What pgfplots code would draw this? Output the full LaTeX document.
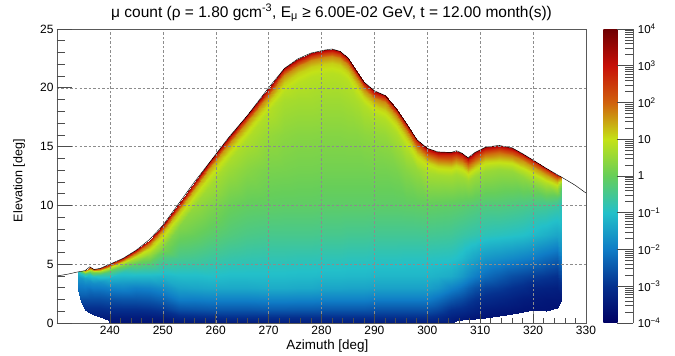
\documentclass[border=0pt]{standalone}
\usepackage{fontspec}
\setmainfont{Liberation Sans}
\usepackage{pgfplots}
\pgfplotsset{compat=1.18}
\begin{document}
\begin{tikzpicture}
\useasboundingbox (0,0) rectangle (675pt,356pt);
\begin{axis}[
  at={(57pt,33pt)}, anchor=south west,
  scale only axis, width=529pt, height=294pt,
  xmin=230, xmax=330, ymin=0, ymax=25,
  xtick={240,250,...,330}, ytick={0,5,...,25},
  minor x tick num=4, minor y tick num=4,
  tick align=inside, tick pos=left,
  major tick length=9pt, minor tick length=4.5pt,
  every tick/.style={black!70, line width=0.6pt},
  axis line style={black!65, line width=0.7pt},
  grid=major,
  major grid style={black!45, dash pattern=on 2.5pt off 2pt, line width=0.4pt},
  axis on top,
  /pgf/number format/assume math mode=true,
  tick label style={font=\fontsize{12}{14}\selectfont},
  every axis title/.style={at={(axis description cs:0.519,1.0408)}, anchor=base, font=\fontsize{15.5}{18}\selectfont},
  every axis x label/.style={at={(axis description cs:0.511,-0.0901)}, anchor=base, font=\fontsize{13.4}{16}\selectfont},
  every axis y label/.style={at={(axis description cs:-0.0718,0.484)}, anchor=center, rotate=90, font=\fontsize{12.5}{15}\selectfont},
  title={μ count (ρ = 1.80 gcm\textsuperscript{-3}, E\textsubscript{μ} ≥ 6.00E-02 GeV, t = 12.00 month(s))},
  xlabel={Azimuth [deg]},
  ylabel={Elevation [deg]},
  colormap={rootrainbow}{rgb255=(0,0,99) rgb255=(5,48,142) rgb255=(15,124,198) rgb255=(35,192,201) rgb255=(102,206,90) rgb255=(196,226,22) rgb255=(208,97,13) rgb255=(199,16,8) rgb255=(110,0,2)},
  point meta min=-4, point meta max=4,
  colorbar,
  colorbar shift/.style={xshift=4pt},
  colorbar style={
    scale only axis, width=30pt, height=294pt,
    ytick={-4,-3,...,4},
    yticklabels={10\textsuperscript{−4},10\textsuperscript{−3},10\textsuperscript{−2},10\textsuperscript{−1},1,10,10\textsuperscript{2},10\textsuperscript{3},10\textsuperscript{4}},
    minor ytick={-3.699,-3.523,-3.398,-3.301,-3.222,-3.155,-3.097,-3.046,
      -2.699,-2.523,-2.398,-2.301,-2.222,-2.155,-2.097,-2.046,
      -1.699,-1.523,-1.398,-1.301,-1.222,-1.155,-1.097,-1.046,
      -0.699,-0.523,-0.398,-0.301,-0.222,-0.155,-0.097,-0.046,
      0.301,0.477,0.602,0.699,0.778,0.845,0.903,0.954,
      1.301,1.477,1.602,1.699,1.778,1.845,1.903,1.954,
      2.301,2.477,2.602,2.699,2.778,2.845,2.903,2.954,
      3.301,3.477,3.602,3.699,3.778,3.845,3.903,3.954},
    axis x line=none, axis y line*=right,
    tick align=inside,
    major tick length=16pt, minor tick length=8pt,
    every tick/.style={black!70, line width=0.5pt},
    axis line style={black!65, line width=0.7pt},
    yticklabel style={font=\fontsize{11.5}{13}\selectfont, xshift=1pt},
  },
]
\addplot[surf, shader=interp, point meta=explicit, mesh/ordering=y varies] table[x=x, y=y, meta=v] {
x y v
234.0 2.80 -2.20
234.0 2.80 -2.20
234.0 2.80 -2.20
234.0 2.80 -2.20
234.0 2.80 -2.20
234.0 2.80 -2.20
234.0 2.80 -2.20
234.0 2.80 -2.20
234.0 2.80 -2.20
234.0 2.80 -2.20
234.0 2.80 -2.20
234.0 2.80 -2.20
234.0 2.80 -2.20
234.0 3.15 -2.00
234.0 3.75 -1.65
234.0 4.10 -1.35
234.0 4.35 -1.00

234.6 1.80 -2.75
234.6 1.80 -2.75
234.6 1.80 -2.75
234.6 2.00 -2.60
234.6 2.40 -2.35
234.6 2.40 -2.35
234.6 2.40 -2.35
234.6 2.40 -2.35
234.6 2.40 -2.35
234.6 2.40 -2.35
234.6 2.40 -2.35
234.6 2.40 -2.35
234.6 2.40 -2.35
234.6 3.20 -1.95
234.6 3.80 -1.60
234.6 4.15 -1.00
234.6 4.40 0.00

235.3 1.10 -3.10
235.3 1.10 -3.10
235.3 1.20 -3.05
235.3 2.00 -2.60
235.3 2.45 -2.30
235.3 2.45 -2.30
235.3 2.45 -2.30
235.3 2.45 -2.30
235.3 2.45 -2.30
235.3 2.45 -2.30
235.3 2.45 -2.30
235.3 2.45 -2.30
235.3 2.45 -2.30
235.3 3.25 -1.90
235.3 3.85 -1.40
235.3 4.20 -0.50
235.3 4.45 1.50

236.2 0.85 -3.25
236.2 0.85 -3.25
236.2 1.20 -3.05
236.2 2.00 -2.60
236.2 2.78 -2.20
236.2 2.78 -2.20
236.2 2.78 -2.20
236.2 2.78 -2.20
236.2 2.78 -2.20
236.2 2.78 -2.20
236.2 2.78 -2.20
236.2 2.78 -2.20
236.2 2.78 -2.20
236.2 3.58 -1.65
236.2 4.18 -0.80
236.2 4.53 0.80
236.2 4.78 2.70

237.0 0.68 -3.30
237.0 0.68 -3.30
237.0 1.20 -3.05
237.0 2.00 -2.60
237.0 2.55 -2.30
237.0 2.55 -2.30
237.0 2.55 -2.30
237.0 2.55 -2.30
237.0 2.55 -2.30
237.0 2.55 -2.30
237.0 2.55 -2.30
237.0 2.55 -2.30
237.0 2.55 -2.30
237.0 3.35 -1.80
237.0 3.95 -1.10
237.0 4.30 0.30
237.0 4.55 2.50

238.2 0.48 -3.40
238.2 0.50 -3.38
238.2 1.20 -3.05
238.2 2.00 -2.60
238.2 2.65 -2.25
238.2 2.65 -2.25
238.2 2.65 -2.25
238.2 2.65 -2.25
238.2 2.65 -2.25
238.2 2.65 -2.25
238.2 2.65 -2.25
238.2 2.65 -2.25
238.2 2.65 -2.25
238.2 3.45 -1.65
238.2 4.05 -0.70
238.2 4.40 0.70
238.2 4.65 2.80

239.7 0.25 -3.50
239.7 0.50 -3.38
239.7 1.20 -3.00
239.7 2.00 -2.55
239.7 2.95 -1.95
239.7 2.95 -1.95
239.7 2.95 -1.95
239.7 2.95 -1.95
239.7 2.95 -1.95
239.7 2.95 -1.95
239.7 2.95 -1.95
239.7 2.95 -1.95
239.7 2.95 -1.95
239.7 3.75 -1.25
239.7 4.35 -0.30
239.7 4.70 1.00
239.7 4.95 2.90

240.0 0.00 -3.60
240.0 0.50 -3.38
240.0 1.20 -3.00
240.0 2.00 -2.55
240.0 3.00 -1.90
240.0 3.00 -1.90
240.0 3.00 -1.90
240.0 3.00 -1.90
240.0 3.00 -1.90
240.0 3.00 -1.90
240.0 3.00 -1.90
240.0 3.00 -1.90
240.0 3.00 -1.90
240.0 3.80 -1.20
240.0 4.40 -0.20
240.0 4.75 1.00
240.0 5.00 2.90

242.5 0.00 -3.60
242.5 0.50 -3.40
242.5 1.20 -3.00
242.5 2.00 -2.50
242.5 3.00 -1.85
242.5 3.50 -1.50
242.5 3.50 -1.50
242.5 3.50 -1.50
242.5 3.50 -1.50
242.5 3.50 -1.50
242.5 3.50 -1.50
242.5 3.50 -1.50
242.5 3.50 -1.50
242.5 4.30 -0.85
242.5 4.90 0.25
242.5 5.25 1.40
242.5 5.50 3.10

245.0 0.00 -3.60
245.0 0.50 -3.40
245.0 1.20 -3.00
245.0 2.00 -2.50
245.0 3.00 -1.95
245.0 4.00 -1.10
245.0 4.20 -0.95
245.0 4.20 -0.95
245.0 4.20 -0.95
245.0 4.20 -0.95
245.0 4.20 -0.95
245.0 4.20 -0.95
245.0 4.20 -0.95
245.0 5.00 -0.10
245.0 5.60 0.85
245.0 5.95 1.80
245.0 6.20 3.20

247.5 0.00 -3.60
247.5 0.50 -3.40
247.5 1.20 -2.95
247.5 2.00 -2.45
247.5 3.00 -1.90
247.5 4.00 -1.10
247.5 5.10 -0.20
247.5 5.10 -0.20
247.5 5.10 -0.20
247.5 5.10 -0.20
247.5 5.10 -0.20
247.5 5.10 -0.20
247.5 5.10 -0.20
247.5 5.90 0.55
247.5 6.50 1.20
247.5 6.85 2.10
247.5 7.10 3.30

250.0 0.00 -3.60
250.0 0.50 -3.35
250.0 1.20 -2.85
250.0 2.00 -2.30
250.0 3.00 -1.75
250.0 4.00 -1.15
250.0 5.50 -0.35
250.0 6.30 0.20
250.0 6.30 0.20
250.0 6.30 0.20
250.0 6.30 0.20
250.0 6.30 0.20
250.0 6.30 0.20
250.0 7.10 0.75
250.0 7.70 1.30
250.0 8.05 2.10
250.0 8.30 3.35

253.0 0.00 -3.50
253.0 0.50 -3.15
253.0 1.20 -2.55
253.0 2.00 -1.95
253.0 3.00 -1.45
253.0 4.00 -1.05
253.0 5.50 -0.45
253.0 7.50 0.10
253.0 8.15 0.30
253.0 8.15 0.30
253.0 8.15 0.30
253.0 8.15 0.30
253.0 8.15 0.30
253.0 8.95 0.85
253.0 9.55 1.35
253.0 9.90 2.20
253.0 10.15 3.35

256.0 0.00 -3.50
256.0 0.50 -3.10
256.0 1.20 -2.50
256.0 2.00 -1.95
256.0 3.00 -1.40
256.0 4.00 -1.05
256.0 5.50 -0.50
256.0 7.50 0.00
256.0 10.00 0.50
256.0 10.00 0.50
256.0 10.00 0.50
256.0 10.00 0.50
256.0 10.00 0.50
256.0 10.80 0.95
256.0 11.40 1.40
256.0 11.75 2.30
256.0 12.00 3.35

259.0 0.00 -3.45
259.0 0.50 -3.05
259.0 1.20 -2.45
259.0 2.00 -1.90
259.0 3.00 -1.35
259.0 4.00 -1.00
259.0 5.50 -0.60
259.0 7.50 -0.15
259.0 10.00 0.30
259.0 11.75 0.65
259.0 11.75 0.65
259.0 11.75 0.65
259.0 11.75 0.65
259.0 12.55 1.05
259.0 13.15 1.50
259.0 13.50 2.40
259.0 13.75 3.40

262.5 0.00 -3.45
262.5 0.50 -3.00
262.5 1.20 -2.45
262.5 2.00 -1.90
262.5 3.00 -1.35
262.5 4.00 -1.05
262.5 5.50 -0.70
262.5 7.50 -0.30
262.5 10.00 0.05
262.5 13.00 0.55
262.5 13.80 0.70
262.5 13.80 0.70
262.5 13.80 0.70
262.5 14.60 1.10
262.5 15.20 1.60
262.5 15.55 2.50
262.5 15.80 3.40

266.0 0.00 -3.45
266.0 0.50 -3.00
266.0 1.20 -2.45
266.0 2.00 -1.90
266.0 3.00 -1.35
266.0 4.00 -1.05
266.0 5.50 -0.75
266.0 7.50 -0.40
266.0 10.00 -0.05
266.0 13.00 0.35
266.0 15.65 0.75
266.0 15.65 0.75
266.0 15.65 0.75
266.0 16.45 1.10
266.0 17.05 1.65
266.0 17.40 2.50
266.0 17.65 3.40

270.0 0.00 -3.40
270.0 0.50 -3.00
270.0 1.20 -2.40
270.0 2.00 -1.85
270.0 3.00 -1.30
270.0 4.00 -1.05
270.0 5.50 -0.78
270.0 7.50 -0.45
270.0 10.00 -0.08
270.0 13.00 0.20
270.0 16.00 0.50
270.0 18.00 0.80
270.0 18.00 0.80
270.0 18.80 1.15
270.0 19.40 1.70
270.0 19.75 2.50
270.0 20.00 3.40

273.0 0.00 -3.40
273.0 0.50 -3.00
273.0 1.20 -2.40
273.0 2.00 -1.85
273.0 3.00 -1.30
273.0 4.00 -1.05
273.0 5.50 -0.78
273.0 7.50 -0.45
273.0 10.00 -0.10
273.0 13.00 0.18
273.0 16.00 0.40
273.0 19.00 0.70
273.0 19.65 0.85
273.0 20.45 1.15
273.0 21.05 1.70
273.0 21.40 2.55
273.0 21.65 3.45

275.5 0.00 -3.40
275.5 0.50 -3.00
275.5 1.20 -2.42
275.5 2.00 -1.87
275.5 3.00 -1.33
275.5 4.00 -1.07
275.5 5.50 -0.80
275.5 7.50 -0.45
275.5 10.00 -0.10
275.5 13.00 0.15
275.5 16.00 0.35
275.5 19.00 0.65
275.5 20.45 0.85
275.5 21.25 1.15
275.5 21.85 1.70
275.5 22.20 2.55
275.5 22.45 3.45

278.0 0.00 -3.40
278.0 0.50 -3.00
278.0 1.20 -2.42
278.0 2.00 -1.87
278.0 3.00 -1.33
278.0 4.00 -1.07
278.0 5.50 -0.80
278.0 7.50 -0.45
278.0 10.00 -0.10
278.0 13.00 0.15
278.0 16.00 0.35
278.0 19.00 0.65
278.0 20.95 0.85
278.0 21.75 1.15
278.0 22.35 1.70
278.0 22.70 2.55
278.0 22.95 3.45

280.5 0.00 -3.40
280.5 0.50 -3.00
280.5 1.20 -2.45
280.5 2.00 -1.90
280.5 3.00 -1.40
280.5 4.00 -1.10
280.5 5.50 -0.82
280.5 7.50 -0.47
280.5 10.00 -0.12
280.5 13.00 0.13
280.5 16.00 0.33
280.5 19.00 0.60
280.5 21.20 0.85
280.5 22.00 1.15
280.5 22.60 1.70
280.5 22.95 2.55
280.5 23.20 3.45

282.0 0.00 -3.40
282.0 0.50 -3.00
282.0 1.20 -2.45
282.0 2.00 -1.90
282.0 3.00 -1.40
282.0 4.00 -1.10
282.0 5.50 -0.82
282.0 7.50 -0.47
282.0 10.00 -0.12
282.0 13.00 0.13
282.0 16.00 0.33
282.0 19.00 0.60
282.0 21.30 0.85
282.0 22.10 1.15
282.0 22.70 1.70
282.0 23.05 2.55
282.0 23.30 3.45

283.5 0.00 -3.40
283.5 0.50 -3.00
283.5 1.20 -2.45
283.5 2.00 -1.90
283.5 3.00 -1.40
283.5 4.00 -1.10
283.5 5.50 -0.82
283.5 7.50 -0.47
283.5 10.00 -0.12
283.5 13.00 0.13
283.5 16.00 0.33
283.5 19.00 0.60
283.5 21.10 0.85
283.5 21.90 1.15
283.5 22.50 1.70
283.5 22.85 2.55
283.5 23.10 3.45

285.0 0.00 -3.40
285.0 0.50 -3.00
285.0 1.20 -2.45
285.0 2.00 -1.90
285.0 3.00 -1.42
285.0 4.00 -1.12
285.0 5.50 -0.85
285.0 7.50 -0.50
285.0 10.00 -0.12
285.0 13.00 0.13
285.0 16.00 0.35
285.0 19.00 0.65
285.0 20.55 0.85
285.0 21.35 1.15
285.0 21.95 1.70
285.0 22.30 2.55
285.0 22.55 3.45

286.5 0.00 -3.40
286.5 0.50 -3.00
286.5 1.20 -2.45
286.5 2.00 -1.90
286.5 3.00 -1.42
286.5 4.00 -1.12
286.5 5.50 -0.85
286.5 7.50 -0.50
286.5 10.00 -0.12
286.5 13.00 0.13
286.5 16.00 0.35
286.5 19.00 0.72
286.5 19.50 0.85
286.5 20.30 1.15
286.5 20.90 1.70
286.5 21.25 2.55
286.5 21.50 3.45

288.0 0.00 -3.40
288.0 0.50 -3.00
288.0 1.20 -2.45
288.0 2.00 -1.90
288.0 3.00 -1.42
288.0 4.00 -1.12
288.0 5.50 -0.85
288.0 7.50 -0.50
288.0 10.00 -0.12
288.0 13.00 0.13
288.0 16.00 0.40
288.0 18.50 0.80
288.0 18.50 0.80
288.0 19.30 1.15
288.0 19.90 1.70
288.0 20.25 2.55
288.0 20.50 3.45

290.0 0.00 -3.40
290.0 0.50 -3.00
290.0 1.20 -2.50
290.0 2.00 -1.95
290.0 3.00 -1.45
290.0 4.00 -1.15
290.0 5.50 -0.88
290.0 7.50 -0.52
290.0 10.00 -0.12
290.0 13.00 0.15
290.0 16.00 0.45
290.0 17.75 0.80
290.0 17.75 0.80
290.0 18.55 1.15
290.0 19.15 1.70
290.0 19.50 2.55
290.0 19.75 3.45

292.0 0.00 -3.40
292.0 0.50 -3.00
292.0 1.20 -2.50
292.0 2.00 -1.95
292.0 3.00 -1.45
292.0 4.00 -1.15
292.0 5.50 -0.88
292.0 7.50 -0.52
292.0 10.00 -0.12
292.0 13.00 0.15
292.0 16.00 0.50
292.0 17.35 0.80
292.0 17.35 0.80
292.0 18.15 1.15
292.0 18.75 1.70
292.0 19.10 2.55
292.0 19.35 3.45

294.0 0.00 -3.40
294.0 0.50 -3.00
294.0 1.20 -2.50
294.0 2.00 -1.95
294.0 3.00 -1.45
294.0 4.00 -1.15
294.0 5.50 -0.88
294.0 7.50 -0.52
294.0 10.00 -0.12
294.0 13.00 0.20
294.0 16.00 0.70
294.0 16.30 0.80
294.0 16.30 0.80
294.0 17.10 1.15
294.0 17.70 1.70
294.0 18.05 2.55
294.0 18.30 3.45

296.0 0.00 -3.40
296.0 0.50 -3.00
296.0 1.20 -2.50
296.0 2.00 -1.95
296.0 3.00 -1.45
296.0 4.00 -1.15
296.0 5.50 -0.90
296.0 7.50 -0.52
296.0 10.00 -0.10
296.0 13.00 0.35
296.0 15.00 0.80
296.0 15.00 0.80
296.0 15.00 0.80
296.0 15.80 1.15
296.0 16.40 1.70
296.0 16.75 2.55
296.0 17.00 3.45

298.0 0.00 -3.40
298.0 0.50 -3.00
298.0 1.20 -2.50
298.0 2.00 -1.95
298.0 3.00 -1.45
298.0 4.00 -1.15
298.0 5.50 -0.90
298.0 7.50 -0.52
298.0 10.00 -0.08
298.0 13.00 0.50
298.0 13.60 0.80
298.0 13.60 0.80
298.0 13.60 0.80
298.0 14.40 1.15
298.0 15.00 1.80
298.0 15.35 2.60
298.0 15.60 3.45

300.0 0.00 -3.40
300.0 0.50 -3.00
300.0 1.20 -2.50
300.0 2.00 -1.95
300.0 3.00 -1.45
300.0 4.00 -1.15
300.0 5.50 -0.90
300.0 7.50 -0.50
300.0 10.00 -0.05
300.0 12.85 0.70
300.0 12.85 0.70
300.0 12.85 0.70
300.0 12.85 0.70
300.0 13.65 1.15
300.0 14.25 1.95
300.0 14.60 2.70
300.0 14.85 3.45

302.0 0.00 -3.42
302.0 0.50 -3.10
302.0 1.20 -2.65
302.0 2.00 -2.15
302.0 3.00 -1.60
302.0 4.00 -1.22
302.0 5.50 -0.92
302.0 7.50 -0.52
302.0 10.00 -0.07
302.0 12.55 0.65
302.0 12.55 0.65
302.0 12.55 0.65
302.0 12.55 0.65
302.0 13.35 1.15
302.0 13.95 1.95
302.0 14.30 2.70
302.0 14.55 3.45

304.5 0.00 -3.45
304.5 0.50 -3.30
304.5 1.20 -2.95
304.5 2.00 -2.45
304.5 3.00 -1.90
304.5 4.00 -1.30
304.5 5.50 -0.95
304.5 7.50 -0.55
304.5 10.00 -0.10
304.5 12.50 0.65
304.5 12.50 0.65
304.5 12.50 0.65
304.5 12.50 0.65
304.5 13.30 1.15
304.5 13.90 1.95
304.5 14.25 2.70
304.5 14.50 3.45

305.5 0.20 -3.50
305.5 0.50 -3.35
305.5 1.20 -3.00
305.5 2.00 -2.55
305.5 3.00 -2.00
305.5 4.00 -1.40
305.5 5.50 -1.00
305.5 7.50 -0.60
305.5 10.00 -0.12
305.5 12.65 0.65
305.5 12.65 0.65
305.5 12.65 0.65
305.5 12.65 0.65
305.5 13.45 1.15
305.5 14.05 1.95
305.5 14.40 2.70
305.5 14.65 3.45

306.5 0.25 -3.50
306.5 0.50 -3.40
306.5 1.20 -3.05
306.5 2.00 -2.65
306.5 3.00 -2.15
306.5 4.00 -1.55
306.5 5.50 -1.10
306.5 7.50 -0.65
306.5 10.00 -0.15
306.5 12.45 0.60
306.5 12.45 0.60
306.5 12.45 0.60
306.5 12.45 0.60
306.5 13.25 1.15
306.5 13.85 1.95
306.5 14.20 2.70
306.5 14.45 3.45

307.7 0.30 -3.55
307.7 0.50 -3.45
307.7 1.20 -3.15
307.7 2.00 -2.80
307.7 3.00 -2.35
307.7 4.00 -1.75
307.7 5.50 -1.25
307.7 7.50 -0.70
307.7 10.00 -0.20
307.7 12.05 0.55
307.7 12.05 0.55
307.7 12.05 0.55
307.7 12.05 0.55
307.7 12.85 1.15
307.7 13.45 1.95
307.7 13.80 2.70
307.7 14.05 3.45

309.0 0.35 -3.60
309.0 0.50 -3.50
309.0 1.20 -3.25
309.0 2.00 -2.95
309.0 3.00 -2.55
309.0 4.00 -1.95
309.0 5.50 -1.40
309.0 7.50 -0.75
309.0 10.00 -0.25
309.0 12.50 0.55
309.0 12.50 0.55
309.0 12.50 0.55
309.0 12.50 0.55
309.0 13.30 1.15
309.0 13.90 1.95
309.0 14.25 2.70
309.0 14.50 3.45

311.0 0.45 -3.60
311.0 0.50 -3.58
311.0 1.20 -3.40
311.0 2.00 -3.10
311.0 3.00 -2.75
311.0 4.00 -2.20
311.0 5.50 -1.60
311.0 7.50 -0.85
311.0 10.00 -0.30
311.0 12.95 0.55
311.0 12.95 0.55
311.0 12.95 0.55
311.0 12.95 0.55
311.0 13.75 1.15
311.0 14.35 1.95
311.0 14.70 2.70
311.0 14.95 3.45

313.5 0.60 -3.60
313.5 0.60 -3.60
313.5 1.20 -3.45
313.5 2.00 -3.20
313.5 3.00 -2.85
313.5 4.00 -2.40
313.5 5.50 -1.70
313.5 7.50 -0.90
313.5 10.00 -0.30
313.5 13.00 0.50
313.5 13.10 0.55
313.5 13.10 0.55
313.5 13.10 0.55
313.5 13.90 1.15
313.5 14.50 1.95
313.5 14.85 2.70
313.5 15.10 3.45

316.0 0.75 -3.60
316.0 0.75 -3.60
316.0 1.20 -3.50
316.0 2.00 -3.30
316.0 3.00 -3.00
316.0 4.00 -2.60
316.0 5.50 -1.80
316.0 7.50 -0.95
316.0 10.00 -0.35
316.0 12.90 0.50
316.0 12.90 0.50
316.0 12.90 0.50
316.0 12.90 0.50
316.0 13.70 1.10
316.0 14.30 1.85
316.0 14.65 2.60
316.0 14.90 3.40

318.0 0.95 -3.60
318.0 0.95 -3.60
318.0 1.20 -3.55
318.0 2.00 -3.40
318.0 3.00 -3.10
318.0 4.00 -2.70
318.0 5.50 -1.90
318.0 7.50 -1.00
318.0 10.00 -0.40
318.0 12.40 0.45
318.0 12.40 0.45
318.0 12.40 0.45
318.0 12.40 0.45
318.0 13.20 1.00
318.0 13.80 1.60
318.0 14.15 2.35
318.0 14.40 3.30

320.0 1.10 -3.60
320.0 1.10 -3.60
320.0 1.20 -3.58
320.0 2.00 -3.45
320.0 3.00 -3.25
320.0 4.00 -2.80
320.0 5.50 -2.00
320.0 7.50 -1.10
320.0 10.00 -0.45
320.0 11.85 0.35
320.0 11.85 0.35
320.0 11.85 0.35
320.0 11.85 0.35
320.0 12.65 0.95
320.0 13.25 1.55
320.0 13.60 2.25
320.0 13.85 3.20

322.5 1.05 -3.60
322.5 1.05 -3.60
322.5 1.20 -3.58
322.5 2.00 -3.50
322.5 3.00 -3.30
322.5 4.00 -2.90
322.5 5.50 -2.20
322.5 7.50 -1.25
322.5 10.00 -0.50
322.5 11.15 0.20
322.5 11.15 0.20
322.5 11.15 0.20
322.5 11.15 0.20
322.5 11.95 0.85
322.5 12.55 1.50
322.5 12.90 2.15
322.5 13.15 3.10

324.6 1.30 -3.60
324.6 1.30 -3.60
324.6 1.30 -3.60
324.6 2.00 -3.50
324.6 3.00 -3.35
324.6 4.00 -3.00
324.6 5.50 -2.35
324.6 7.50 -1.40
324.6 10.00 -0.60
324.6 10.60 -0.20
324.6 10.60 -0.20
324.6 10.60 -0.20
324.6 10.60 -0.20
324.6 11.40 0.60
324.6 12.00 1.30
324.6 12.35 2.00
324.6 12.60 2.90

325.4 2.00 -3.50
325.4 2.00 -3.50
325.4 2.00 -3.50
325.4 2.00 -3.50
325.4 3.00 -3.10
325.4 4.00 -2.60
325.4 5.50 -1.90
325.4 7.50 -1.30
325.4 10.00 -0.90
325.4 10.40 -0.75
325.4 10.40 -0.75
325.4 10.40 -0.75
325.4 10.40 -0.75
325.4 11.20 -0.40
325.4 11.80 0.30
325.4 12.15 1.20
325.4 12.40 2.20
};
\addplot[black, line width=0.45pt] coordinates {
(230,4.00) (232,4.15) (234,4.35) (234.6,4.40) (235.3,4.45) (236.2,4.78) (237,4.55) (238.2,4.65) (239.7,4.95) (240,5.00)
(242.5,5.50) (245,6.20) (247.5,7.10) (250,8.30) (253,10.15) (256,12.00) (259,13.75) (262.5,15.80) (266,17.65) (270,20.00)
(273,21.65) (275.5,22.45) (278,22.95) (280.5,23.20) (282,23.30) (283.5,23.10) (285,22.55) (286.5,21.50) (288,20.50) (290,19.75)
(292,19.35) (294,18.30) (296,17.00) (298,15.60) (300,14.85) (302,14.55) (304.5,14.50) (305.5,14.65) (306.5,14.45) (307.7,14.05)
(309,14.50) (311,14.95) (313.5,15.10) (316,14.90) (318,14.40) (320,13.85) (322.5,13.15) (324.6,12.60) (325.4,12.40) (328,11.70) (330,11.05)
};
\end{axis}
\begin{axis}[
  at={(57pt,33pt)}, anchor=south west,
  scale only axis, width=529pt, height=294pt,
  xmin=230, xmax=330, ymin=0, ymax=25,
  hide x axis, axis y line*=left,
  axis line style={draw=none},
  ytick={0,5,...,25}, minor y tick num=4,
  yticklabels={},
  tick align=inside,
  major tick length=15pt, minor tick length=7.5pt,
  every tick/.style={black!70, line width=0.6pt},
]
\end{axis}
\end{tikzpicture}
\end{document}
